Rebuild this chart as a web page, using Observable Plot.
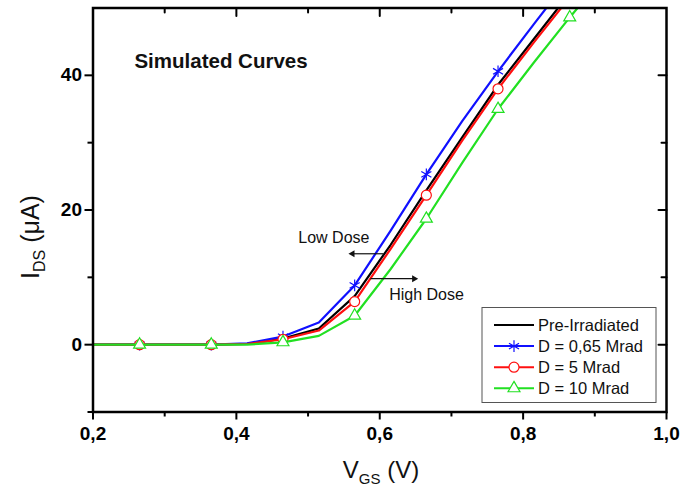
<!DOCTYPE html>
<html><head><meta charset="utf-8">
<script src="https://cdn.jsdelivr.net/npm/d3@7"></script>
<script src="https://cdn.jsdelivr.net/npm/@observablehq/plot@0.6"></script>
<style>html,body{margin:0;padding:0;background:#fff;} svg{display:block}</style>
</head><body><div id="chart"></div>
<script>
// ---- data ----
const vgs = [0.2, 0.265, 0.315, 0.365, 0.415, 0.465, 0.515, 0.565, 0.615, 0.665, 0.715, 0.765, 0.815, 0.865, 0.915];
const preIrradiated = [0, 0, 0, 0, 0.1, 0.9, 2.4, 7.2, 14.8, 22.9, 30.8, 38.6, 45.4, 52.2, 58];
const dose065 = [0, 0, 0, 0, 0.2, 1.2, 3.3, 8.8, 16.9, 25.3, 33.2, 40.6, 47.6, 54.5, 61];
const dose5 = [0, 0, 0, 0, 0.1, 0.8, 2.1, 6.4, 14.2, 22.2, 30.3, 38.0, 44.9, 51.6, 58];
const dose10 = [0, 0, 0, 0, 0, 0.35, 1.3, 4.3, 11.2, 18.7, 27.0, 35.0, 41.9, 48.6, 55];
const markerIndex = [1, 3, 5, 7, 9, 11, 13];

const seriesNames = ["Pre-Irradiated", "D = 0,65 Mrad", "D = 5 Mrad", "D = 10 Mrad"];
const seriesValues = [preIrradiated, dose065, dose5, dose10];
const seriesColors = ["#000000", "#1010ff", "#ff1010", "#22e022"];
const seriesSymbols = [null, "asterisk", "circle", "triangle2"];
const seriesSymbolR = [0, 5.5, 5, 5.7];

const xMajor = [0.2, 0.4, 0.6, 0.8, 1.0];
const xMinor = [0.3, 0.5, 0.7, 0.9];
const yMajor = [0, 20, 40];
const yMinor = [-10, 10, 30];

const titleNote = [{x: 0.2578, y: 42.1, text: "Simulated Curves"}];
const doseNotes = [{x: 0.4864, y: 15.8, text: "Low Dose"}, {x: 0.6132, y: 7.4, text: "High Dose"}];
const doseArrows = [{x1: 0.605, x2: 0.562, y: 13.5}, {x1: 0.587, x2: 0.648, y: 9.8}];

// ---- build rows ----
const rows = [];
seriesNames.forEach((name, s) => vgs.forEach((x, i) => rows.push({series: name, s, i, x, y: seriesValues[s][i]})));

const tickShape = {draw(ctx, l) { ctx.moveTo(0, 0); ctx.lineTo(0, -l); }};
const fmt = d => d3.format(".1f")(d).replace(".", ",");
const FONT = "'Liberation Sans', Arial, sans-serif";

const seriesMarks = [];
seriesNames.forEach((name, s) => {
  const data = rows.filter(d => d.s === s);
  seriesMarks.push(Plot.line(data, {x: "x", y: "y", stroke: seriesColors[s], strokeWidth: 2.2, clip: true}));
  if (seriesSymbols[s]) {
    seriesMarks.push(Plot.dot(data.filter(d => markerIndex.includes(d.i)), {
      x: "x", y: "y", symbol: seriesSymbols[s], r: seriesSymbolR[s],
      stroke: seriesColors[s], fill: "white", strokeWidth: 1.2, clip: true
    }));
  }
});

const svg = Plot.plot({
  width: 682, height: 491,
  marginLeft: 92.5, marginRight: 16, marginTop: 7.5, marginBottom: 79.5,
  x: {domain: [0.2, 1.0]},
  y: {domain: [-10, 50]},
  style: {fontFamily: FONT, background: "white", overflow: "visible", color: "black"},
  marks: [
    ...seriesMarks,
    Plot.link(doseArrows, {x1: "x1", x2: "x2", y1: "y", y2: "y", stroke: "#111", strokeWidth: 1.2}),
    Plot.dot(doseArrows, {x: "x2", y: "y", symbol: "triangle", r: 2.6, fill: "#111", rotate: d => d.x2 < d.x1 ? -90 : 90}),
    Plot.text(titleNote, {x: "x", y: "y", text: "text", textAnchor: "start", fontSize: 20.5, fontWeight: "bold", fill: "#111"}),
    Plot.text(doseNotes, {x: "x", y: "y", text: "text", textAnchor: "start", fontSize: 16, fill: "#111"}),
    // axes: bottom & left (outward ticks)
    Plot.axisX(xMajor, {tickSize: 8, tickPadding: 6, tickFormat: fmt, fontSize: 19, fontWeight: "bold", strokeWidth: 2, label: null}),
    Plot.axisX(xMinor, {tickSize: 5, tickFormat: () => "", strokeWidth: 2, label: null}),
    Plot.axisY(yMajor, {tickSize: 8, tickPadding: 3, tickFormat: d => d, fontSize: 19, fontWeight: "bold", strokeWidth: 2, label: null}),
    Plot.axisY(yMinor, {tickSize: 5, tickFormat: () => "", strokeWidth: 2, label: null}),
    // top & right (inward ticks)
    Plot.vector(xMajor.slice(1, -1), {x: d => d, y: 50, length: 8, rotate: 180, anchor: "start", shape: tickShape, stroke: "black", strokeWidth: 2}),
    Plot.vector(xMinor, {x: d => d, y: 50, length: 4.5, rotate: 180, anchor: "start", shape: tickShape, stroke: "black", strokeWidth: 2}),
    Plot.vector(yMajor, {x: 1.0, y: d => d, length: 8, rotate: -90, anchor: "start", shape: tickShape, stroke: "black", strokeWidth: 2}),
    Plot.vector(yMinor.slice(1), {x: 1.0, y: d => d, length: 5, rotate: -90, anchor: "start", shape: tickShape, stroke: "black", strokeWidth: 2}),
    Plot.frame({stroke: "black", strokeWidth: 2.5})
  ]
});
document.getElementById("chart").appendChild(svg);

// ---- axis titles with subscripts ----
const root = d3.select(svg);
const xt = root.append("text").attr("x", 381).attr("y", 478).attr("text-anchor", "middle")
  .attr("font-family", FONT).attr("font-size", 24).attr("fill", "#111");
xt.append("tspan").text("V");
xt.append("tspan").attr("font-size", 15).attr("dy", 6).text("GS");
xt.append("tspan").attr("dy", -6).text(" (V)");

const yt = root.append("text").attr("transform", "translate(39,237) rotate(-90)").attr("text-anchor", "middle")
  .attr("font-family", FONT).attr("font-size", 25).attr("fill", "#111");
yt.append("tspan").text("I");
yt.append("tspan").attr("font-size", 16).attr("dy", 6).text("DS");
yt.append("tspan").attr("dy", -6).text(" (\u03BCA)");

// ---- legend ----
const lg = root.append("g").attr("font-family", FONT).attr("text-anchor", "start");
lg.append("rect").attr("x", 482).attr("y", 307.5).attr("width", 174).attr("height", 95)
  .attr("fill", "white").attr("stroke", "#555").attr("stroke-width", 1);
const symType = {asterisk: d3.symbolAsterisk, circle: d3.symbolCircle, triangle2: d3.symbolTriangle2};
seriesNames.forEach((name, s) => {
  const cy = 325 + s * 21.1;
  lg.append("line").attr("x1", 494).attr("x2", 534).attr("y1", cy).attr("y2", cy)
    .attr("stroke", seriesColors[s]).attr("stroke-width", 2);
  if (seriesSymbols[s]) {
    const r = seriesSymbolR[s];
    lg.append("path").attr("transform", `translate(514,${cy})`)
      .attr("d", d3.symbol(symType[seriesSymbols[s]], Math.PI * r * r)())
      .attr("fill", "white").attr("stroke", seriesColors[s]).attr("stroke-width", 1.2);
  }
  lg.append("text").attr("x", 538).attr("y", cy + 6).attr("text-anchor", "start")
    .attr("font-size", 16.5).attr("fill", "#111").text(name);
});
</script>
</body></html>
